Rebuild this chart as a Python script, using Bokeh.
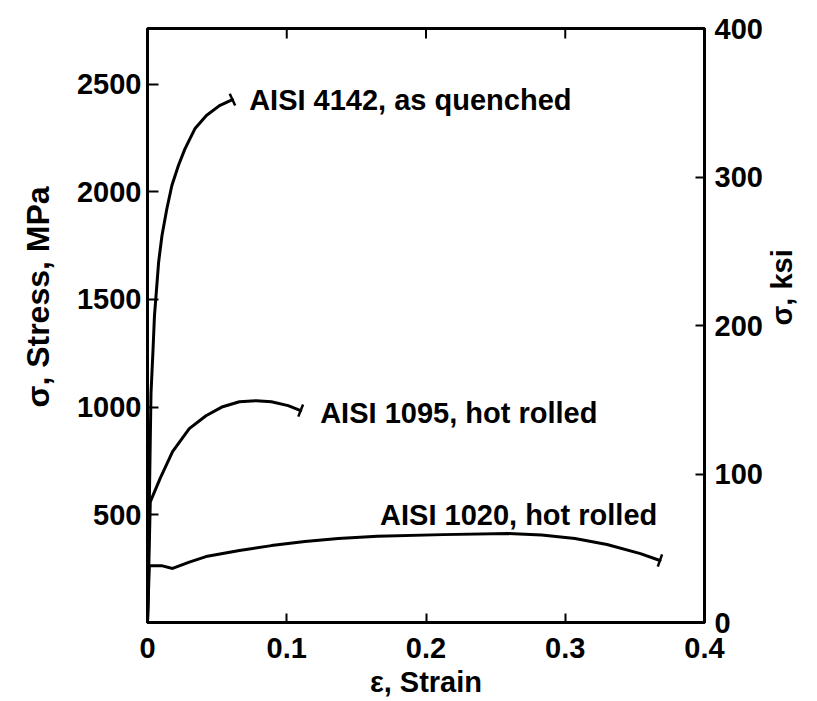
import math
from bokeh.plotting import figure
from bokeh.models import Range1d, LinearAxis, FixedTicker, Label, Title
from bokeh.embed import file_html
from bokeh.resources import INLINE

# ---------------- data ----------------
strain_4142 = [0, 0.0025, 0.004, 0.005, 0.0069, 0.008, 0.0104, 0.0139, 0.0175, 0.0222,
               0.0269, 0.034, 0.0423, 0.0517, 0.061]
stress_4142 = [0, 1062, 1271, 1424, 1582, 1674, 1797, 1921, 2029, 2122,
               2199, 2292, 2354, 2400, 2428]

strain_1095 = [0, 0.002, 0.009, 0.018, 0.030, 0.042, 0.054, 0.066, 0.078, 0.089, 0.101, 0.110]
stress_1095 = [0, 560, 668, 793, 900, 960, 1002, 1025, 1030, 1025, 1007, 984]

strain_1020 = [0, 0.0013, 0.010, 0.018, 0.030, 0.042, 0.066, 0.089, 0.113, 0.137, 0.165, 0.212,
               0.259, 0.283, 0.307, 0.330, 0.354, 0.368]
stress_1020 = [0, 264, 264, 251, 280, 306, 334, 357, 376, 390, 400, 408,
               413, 406, 390, 362, 320, 288]

curve_names = ["AISI 4142, as quenched", "AISI 1095, hot rolled", "AISI 1020, hot rolled"]

strain_ticks = [0, 0.1, 0.2, 0.3, 0.4]
strain_tick_labels = ["0", "0.1", "0.2", "0.3", "0.4"]
mpa_ticks = [500, 1000, 1500, 2000, 2500]
ksi_ticks = [0, 100, 200, 300, 400]
MPA_PER_KSI = 6.894757

x_title = "ε, Strain"
y_title = "σ, Stress, MPa"
y2_title = "σ, ksi"

# ---------------- figure ----------------
FONT = "Liberation Sans"
FS = "29px"
W, H = 816, 700
BL, BR, BT, BB = 147, 104, 28, 77

p = figure(width=W, height=H, output_backend="svg", toolbar_location=None,
           x_range=Range1d(0, 0.4), y_range=Range1d(0, 400 * MPA_PER_KSI),
           min_border_left=BL, min_border_right=BR, min_border_top=BT, min_border_bottom=BB,
           x_axis_location=None, y_axis_location=None)
p.extra_y_ranges = {"ksi": Range1d(0, 400)}
p.xgrid.visible = False
p.ygrid.visible = False
p.outline_line_color = "black"
p.outline_line_width = 3
p.background_fill_color = "white"
p.border_fill_color = "white"


def style_axis(ax, tick_in):
    ax.axis_line_width = 3
    ax.axis_line_color = "black"
    ax.major_tick_in = tick_in
    ax.major_tick_out = 0
    ax.major_tick_line_width = 2
    ax.minor_tick_line_color = None
    ax.major_label_text_font = FONT
    ax.major_label_text_font_style = "bold"
    ax.major_label_text_font_size = FS
    ax.major_label_text_color = "black"
    ax.axis_label_text_font = FONT
    ax.axis_label_text_font_style = "bold"
    ax.axis_label_text_font_size = FS
    ax.axis_label_text_color = "black"


xb = LinearAxis(ticker=FixedTicker(ticks=strain_ticks), axis_label=x_title)
xb.major_label_overrides = {t: s for t, s in zip(strain_ticks, strain_tick_labels)}
style_axis(xb, 9)
xb.major_label_standoff = 15
xb.axis_label_standoff = 5
p.add_layout(xb, "below")

yl = LinearAxis(ticker=FixedTicker(ticks=mpa_ticks))
style_axis(yl, 11)
yl.major_label_standoff = 6
p.add_layout(yl, "left")

# left title, reading bottom-to-top, starting a little above the middle of the frame
p.add_layout(Title(text=y_title, align="left", offset=215, standoff=35,
                   text_font=FONT, text_font_style="bold", text_font_size="32px",
                   text_color="black"), "left")

yr = LinearAxis(y_range_name="ksi", ticker=FixedTicker(ticks=ksi_ticks), axis_label=y2_title)
style_axis(yr, 9)
yr.major_label_standoff = 10
yr.axis_label_standoff = 16
yr.axis_label_orientation = math.pi / 2
p.add_layout(yr, "right")

# ---------------- curves ----------------
FW = W - BL - BR
FH = H - BT - BB
sx = FW / (p.x_range.end - p.x_range.start)
sy = FH / (p.y_range.end - p.y_range.start)

# inward ticks on the top edge, at the inner strain ticks
top = p.y_range.end
p.segment(x0=strain_ticks[1:-1], x1=strain_ticks[1:-1],
          y0=[top] * 3, y1=[top - 10 / sy] * 3, line_color="black", line_width=2)

curves = [(strain_4142, stress_4142), (strain_1095, stress_1095), (strain_1020, stress_1020)]
for xs, ys in curves:
    p.line(xs, ys, line_color="black", line_width=3, line_join="round", line_cap="round")
    # fracture mark: short tick perpendicular to the final segment
    dx = (xs[-1] - xs[-2]) * sx
    dy = (ys[-1] - ys[-2]) * sy
    ang = math.atan2(dy, dx) + math.pi / 2
    p.scatter([xs[-1]], [ys[-1]], marker="dash", size=13, angle=ang,
              line_color="black", line_width=2.5)

label_pos = [(0.073, 2428), (0.124, 975), (0.167, 497)]
for name, (lx, ly) in zip(curve_names, label_pos):
    p.add_layout(Label(x=lx, y=ly, text=name, text_font=FONT, text_font_style="bold",
                       text_font_size=FS, text_baseline="middle", text_align="left",
                       text_color="black"))

open("out.html", "w").write(file_html(p, INLINE))
